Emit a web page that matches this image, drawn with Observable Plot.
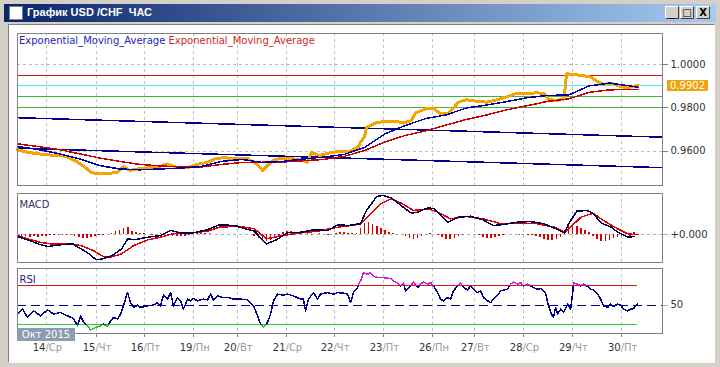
<!DOCTYPE html>
<html><head><meta charset="utf-8">
<script src="https://cdn.jsdelivr.net/npm/d3@7"></script>
<script src="https://cdn.jsdelivr.net/npm/@observablehq/plot@0.6"></script>
<style>
html,body{margin:0;padding:0;background:#d4d0c8;}
#win{position:relative;width:720px;height:367px;overflow:hidden;background:#d4d0c8;font-family:"DejaVu Sans",sans-serif;}
#tb{position:absolute;left:4px;top:4px;width:712px;height:18px;background:linear-gradient(to right,#0a246a 0%,#a6caf0 100%);}
#ttl{position:absolute;left:23px;top:2px;color:#fff;font:bold 11px "Liberation Sans",Arial,sans-serif;white-space:pre;}
#icon{position:absolute;left:5px;top:2px;width:12px;height:12px;background:#fff;border:1px solid #808080;}
.btn{position:absolute;top:2px;width:12px;height:11px;background:#d4d0c8;border-top:1px solid #fff;border-left:1px solid #fff;border-right:1px solid #404040;border-bottom:1px solid #404040;font:bold 10px "DejaVu Sans";color:#000;text-align:center;line-height:11px;}
#client{position:absolute;left:8px;top:24px;width:705px;height:337px;background:#fff;border-top:1px solid #808080;border-left:1px solid #808080;border-right:1px solid #fff;border-bottom:1px solid #fff;}
.pl{position:absolute;left:0;}
.pl svg line, .pl svg rect, .pl svg path{shape-rendering:crispEdges;}
#legend{position:absolute;left:19px;top:35px;font:10px "DejaVu Sans";white-space:pre;}
#pricebox{position:absolute;left:667px;width:41px;height:11px;background:#f0a30a;color:#fff;font:10px "DejaVu Sans";line-height:11px;text-align:center;}
#okt{position:absolute;left:17px;top:328px;width:58px;height:13px;background:#8a9db3;color:#fff;font:10px "DejaVu Sans";line-height:13px;text-align:center;}
</style></head>
<body>
<div id="win">
  <div id="tb"><div id="icon"></div><span id="ttl">График USD /CHF  ЧАС</span>
    <div class="btn" style="left:661px">_</div>
    <div class="btn" style="left:676px">□</div>
    <div class="btn" style="left:692px">X</div>
  </div>
  <div id="client"></div>
  <div id="main" class="pl" style="top:32px"></div>
  <div id="macd" class="pl" style="top:192px"></div>
  <div id="rsi" class="pl" style="top:267px"></div>
  <div id="legend"><span style="color:#2424b4">Exponential_Moving_Average</span> <span style="color:#d02828">Exponential_Moving_Average</span></div>
  <div id="pricebox"></div>
  <div id="okt">Окт 2015</div>
</div>
<script>
// ---- x axis (hourly bar index) ----
const tickBars = [14.2, 38.7, 62.2, 86.2, 107.8, 131.8, 155.3, 179.3, 203.4, 223.9, 247.9, 272, 296];
const tickDay = ["14","15","16","19","20","21","22","23","26","27","28","29","30"];
const tickWeekday = ["Ср","Чт","Пт","Пн","Вт","Ср","Чт","Пт","Пн","Вт","Ср","Чт","Пт"];

// ---- price ----
const priceBar = [0,5,10,15,20,24,29,33,36,39,44,49,52,55,59,64,69,73,78,83,88,93,97,101,108,113,118,120,122,125,129,134,139,142,144,148,153,158,163,167,168,170,171,173,176,181,186,189,193,195,197,201,204,207,211,214,216,220,225,230,235,240,245,250,255,258,260,263,267,268,269,272,277,281,284,287,291,294,297,300,304];
const priceClose = [0.9606,0.9594,0.9587,0.9582,0.9579,0.9575,0.9551,0.9525,0.9502,0.9495,0.9495,0.9502,0.9528,0.9510,0.9518,0.9522,0.9525,0.9541,0.9525,0.9522,0.9538,0.9548,0.9564,0.9569,0.9564,0.9564,0.9533,0.9510,0.9528,0.9556,0.9567,0.9564,0.9561,0.9548,0.9593,0.9579,0.9592,0.9599,0.9599,0.9618,0.9641,0.9664,0.9710,0.9718,0.9733,0.9736,0.9736,0.9729,0.9741,0.9775,0.9784,0.9798,0.9795,0.9775,0.9772,0.9803,0.9826,0.9837,0.9830,0.9826,0.9837,0.9852,0.9867,0.9867,0.9869,0.9865,0.9841,0.9834,0.9837,0.9865,0.9957,0.9954,0.9949,0.9941,0.9923,0.9908,0.9914,0.9903,0.9895,0.9895,0.9904];
const lastPrice = 0.9902;

// ---- moving averages ----
const emaBar = [0,10,20,30,40,50,60,70,80,90,100,110,120,130,140,150,160,170,180,190,200,210,220,230,240,250,260,270,280,290,300,304];
const emaFast = [0.9621,0.9607,0.9588,0.9565,0.9533,0.9517,0.9513,0.9517,0.9521,0.9528,0.9552,0.9561,0.9547,0.9552,0.9563,0.9572,0.9584,0.9616,0.9679,0.9718,0.9750,0.9767,0.9799,0.9813,0.9829,0.9847,0.9857,0.9859,0.9901,0.9914,0.9901,0.9895];
const emaSlow = [0.9633,0.9621,0.9607,0.9588,0.9568,0.9552,0.9538,0.9531,0.9526,0.9526,0.9538,0.9547,0.9548,0.9549,0.9555,0.9561,0.9575,0.9602,0.9642,0.9672,0.9693,0.9720,0.9746,0.9767,0.9791,0.9810,0.9830,0.9841,0.9871,0.9883,0.9884,0.9884];

// ---- channel & levels ----
const channelBar = [0, 316];
const channelUpper = [0.9754, 0.9664];
const channelLower = [0.9613, 0.9523];
const levelRed = [0.9949];
const levelCyan = [0.9902];
const levelGreen = [0.9850, 0.9801];
const priceTicks = [0.96, 0.98, 1.0];

// ---- MACD ----
const macdBar = [0,5,11,15,21,27,29,34,38,39,42,47,51,54,57,64,70,75,80,86,93,99,106,116,122,127,132,139,145,152,157,162,167,168,171,176,179,183,189,193,196,201,204,211,216,222,228,233,238,245,251,258,265,268,270,274,279,282,286,291,294,299,302];
const macdVal = [-0.00016,-0.00049,-0.00096,-0.00116,-0.00099,-0.00089,-0.00116,-0.00173,-0.00239,-0.00249,-0.00239,-0.00199,-0.00139,-0.00039,-0.00049,-0.00023,-0.00006,0.00044,0.00021,0.00021,0.00051,0.00101,0.00094,0.00037,-0.00089,-0.00049,0.00021,0.00027,0.00051,0.00044,0.00101,0.00094,0.00111,0.00111,0.00244,0.00384,0.00394,0.00371,0.00277,0.00217,0.00227,0.00271,0.00261,0.00127,0.00177,0.00187,0.00151,0.00094,0.00104,0.00127,0.00134,0.00111,0.00051,0.00017,0.00111,0.00237,0.00244,0.00217,0.00117,0.00077,0.00027,-0.00023,-0.00016];
const signalBar = [0,5,11,16,24,31,37,42,46,51,57,64,70,76,86,93,99,108,116,122,130,139,147,157,167,168,173,178,183,188,194,201,206,212,220,228,237,245,255,263,268,271,276,282,287,294,299,304];
const signalVal = [-0.00006,-0.00039,-0.00073,-0.00089,-0.00089,-0.00106,-0.00156,-0.00216,-0.00221,-0.00189,-0.00106,-0.00049,-0.00023,0.00011,0.00021,0.00037,0.00077,0.00087,0.00061,-0.00039,-0.00006,0.00021,0.00037,0.00077,0.00104,0.00111,0.00211,0.00311,0.00361,0.00317,0.00244,0.00261,0.00227,0.00161,0.00184,0.00161,0.00111,0.00121,0.00111,0.00077,0.00027,0.00077,0.00177,0.00217,0.00144,0.00061,0.00011,0.00001];
const histVal = [
-0.00015,-0.0002,-0.0002,-0.00025,-0.0002,-0.00025,-0.0002,-0.00015,
-0.00005,-0.00005,-0.00005,-0.00005,
-0.00005,-0.0001,-0.0002,-0.0003,-0.0004,-0.0004,-0.0003,-0.0002,
-0.0001,-0.00005,0.00005,0.0001,
0.0003,0.0004,0.0006,0.0007,
0.0003,0.0002,0.00015,0.0001,
0.00005,-0.00005,0.00005,0.0001,-0.00005,
-0.0001,-0.0002,-0.0002,-0.0002,-0.00015,-0.0001,
0.0001,0.0002,0.0002,0.00015,0.0001,0.00005,
0.00003,0.00003,0.00003,0.00003,0.00003,0.00003,0.00003,0.00003,0.00003,
-0.0002,-0.0004,-0.0006,-0.0007,-0.0006,-0.0004,-0.0002,
0.0002,0.0003,0.0003,0.0002,0.0001,
0.00005,0.0001,-0.00005,0.00005,0.0001,0.00005,-0.00005,0.00005,
0.0001,0.0002,0.0002,0.00015,0.0001,0.0001,
0.0006,0.0011,0.0012,0.0010,0.0008,0.0006,0.0004,0.0002,
0.0001,0.00005,0,
-0.0002,-0.0004,-0.0005,-0.0004,-0.0002,
0.00005,0.0001,0.00005,-0.0001,
-0.0003,-0.0005,-0.0005,-0.0004,-0.0002,-0.0001,
0.00005,0.00005,0,-0.0001,
-0.0003,-0.0004,-0.0004,-0.0003,-0.0002,-0.0001,
0.00005,0.00005,0.00005,-0.00005,0.00005,-0.00005,-0.0001,
-0.0002,-0.0003,-0.0005,-0.0006,-0.0006,-0.0005,-0.0003,
0.0004,0.0009,0.0010,0.0008,0.0006,0.0004,0.0002,
-0.0002,-0.0005,-0.0007,-0.0007,-0.0006,-0.0004,-0.0003,
-0.0002,0.0002,-0.0002,0.0002,-0.0001];
const histBar = d3.range(0, 305, 2);

// ---- RSI ----
const rsiBar = [0,2.5,4.9,7.8,11.3,14.7,17.6,21.1,24.5,27.4,
29.4,30.9,32.3,34.3,35.8,38.2,40.7,42.1,44.1,45.6,
47,49,50.5,51.9,53.9,55.4,56.8,58.8,60.3,63.7,
66.6,68.6,70.1,71.5,73.5,75,76.4,78.4,79.9,81.3,
83.3,84.8,86.2,88.2,91.1,93.1,94.6,96,98,100.5,
103.4,105.8,109.3,112.7,115.6,117.6,119.1,120,120.5,122.5,
124,125.4,127.4,130.3,132.3,135.2,138.7,140.1,141.1,142.6,
145,147,148.5,151.9,154.8,156.8,159.7,161.7,163.2,164.6,
166.6,167.1,168.1,169.5,171.5,173,174.4,176.4,179.3,182.8,
184.2,186.2,187.7,189.1,190.1,192.6,194,196,197.5,198.9,
200.9,202.4,203.8,205.8,207.3,208.7,210.7,212.2,213.6,215.6,
217.1,218.5,220.5,222,223.4,225.4,226.9,228.3,230.3,231.8,
233.2,235.2,236.7,240.1,241.6,243,245,246.5,247.9,249.9,
251.4,252.8,254.8,256.3,258.7,259.7,261.2,262.6,263.6,264.6,
266.1,267.5,269.5,271,272,272.4,274.4,275.9,277.3,279.3,
280.8,282.2,284.2,285.7,287.1,289.1,290.6,292,294,295.5,
296.9,298.9,300.4,301.8,303.8];
const rsiVal = [41.2,45.9,37.4,44.2,39.1,45.2,40.9,42.5,39.1,36.4,
29,39.1,33,29,24.6,27.3,29,30.7,28.3,34,
37.4,35.8,40.9,49.3,62.8,52.6,47.6,50,47.6,49.3,
50,52.6,49.3,60.2,56.1,62.8,49.3,57.7,54.4,45.9,
56.1,54.4,56.7,54.4,56.1,55.4,61.2,55.1,59.4,57.7,
57.7,56.1,56.1,55.4,49.3,39.1,30.7,29,28,32.3,
40.9,54.4,61.2,60.2,61.2,59.4,56.1,56.1,44.2,56.1,
62.8,56.1,61.2,62.8,61.2,62.8,62.2,61.2,52.6,62.8,
67.9,71.3,74.7,83.1,81.5,83.1,79.7,78,78,77,
74.7,72.3,69.6,73,64.5,69.6,73.7,67.9,71.3,73.7,
71.3,73,69.6,62.8,56.1,54.4,57.7,56.1,64.5,69.6,
72.3,67.9,65.5,69.6,66.2,62.8,64.5,57.7,54.4,52.6,
56.1,60.2,64.5,66.2,71.3,73.7,71.3,73,69.6,71.3,
69.6,67.9,66.2,66.9,62.8,52.6,42.5,37.4,47.6,40.9,
45.9,42.5,51,45.9,62.8,73,71.3,69.6,71.3,68.9,
66.2,65.5,61.2,56.1,49.3,47.6,51,48.6,51,50,
45.9,44.2,45.9,46.5,51];
const rsiHigh = 70, rsiMid = 50, rsiLow = 30;

// ---- build ----
const zip = (xs, ys) => { const n = Math.min(xs.length, ys.length); const out = []; for (let i = 0; i < n; i++) out.push({x: xs[i], y: ys[i]}); return out; };
const style = {fontFamily: "DejaVu Sans, sans-serif", fontSize: "10px", background: "transparent", overflow: "visible", color: "#333"};
const xOpt = {domain: [0, 316], axis: null};
const gridOpt = {stroke: "#c0c0c0", strokeDasharray: "3,3"};
const L = {x: "x", y: "y"};
const RED = "rgb(220,20,20)";

const main = Plot.plot({
  width: 720, height: 154, marginLeft: 17, marginRight: 58, marginTop: 1, marginBottom: 1,
  style, x: xOpt, y: {domain: [0.94405, 1.01434], axis: null},
  marks: [
    Plot.ruleX(tickBars, gridOpt),
    Plot.ruleY(priceTicks, gridOpt),
    Plot.ruleY(levelRed, {stroke: RED}),
    Plot.ruleY(levelCyan, {stroke: "rgb(80,230,235)"}),
    Plot.ruleY(levelGreen, {stroke: "rgb(60,180,60)"}),
    Plot.line(zip(channelBar, channelUpper), {...L, stroke: "#00008b"}),
    Plot.line(zip(channelBar, channelLower), {...L, stroke: "#00008b"}),
    Plot.line(zip(priceBar, priceClose), {...L, stroke: "#f5a300", strokeWidth: 3}),
    Plot.line(zip(emaBar, emaSlow), {...L, stroke: "#c80000"}),
    Plot.line(zip(emaBar, emaFast), {...L, stroke: "#0000b0"}),
    Plot.axisY(priceTicks, {anchor: "right", tickSize: 5, tickPadding: 3, tickFormat: d => d.toFixed(4), label: null, stroke: "#808080", fill: "#333"}),
    Plot.frame({stroke: "#808080"})
  ]
});
document.getElementById("main").appendChild(main);
const pb = document.getElementById("pricebox");
pb.textContent = lastPrice.toFixed(4);
pb.style.top = (32 + main.scale("y").apply(lastPrice) - 5.5) + "px";

const macd = Plot.plot({
  width: 720, height: 71, marginLeft: 17, marginRight: 58, marginTop: 1, marginBottom: 1,
  style, x: xOpt, y: {domain: [-0.00276, 0.00414], axis: null},
  marks: [
    Plot.ruleX(tickBars, gridOpt),
    Plot.ruleY([0], {stroke: "#b0b0b0", strokeDasharray: "3,3"}),
    Plot.ruleX(zip(histBar, histVal), {x: "x", y1: 0, y2: "y", stroke: "#d40000", strokeWidth: 1.6}),
    Plot.line(zip(signalBar, signalVal), {...L, stroke: "#e00000"}),
    Plot.line(zip(macdBar, macdVal), {...L, stroke: "#000050"}),
    Plot.text(["MACD"], {frameAnchor: "top-left", dx: 2, dy: 7, textAnchor: "start", fill: "#33336a", fontSize: 10}),
    Plot.axisY([0], {anchor: "right", tickSize: 5, tickPadding: 3, tickFormat: () => "+0.000", label: null, stroke: "#b0b0b0", fill: "#333"}),
    Plot.frame({stroke: "#808080"})
  ]
});
document.getElementById("macd").appendChild(macd);

const rsiData = zip(rsiBar, rsiVal);
const x0 = rsiBar[0], x1 = rsiBar[rsiBar.length - 1];
const rsi = Plot.plot({
  width: 720, height: 95, marginLeft: 17, marginRight: 58, marginTop: 1, marginBottom: 29,
  style, x: xOpt, y: {domain: [21.1, 87.3], axis: null},
  marks: [
    Plot.ruleX(tickBars, gridOpt),
    Plot.ruleY([{y: rsiHigh, a: x0, b: x1}], {y: "y", x1: "a", x2: "b", stroke: RED}),
    Plot.ruleY([{y: rsiLow, a: x0, b: x1}], {y: "y", x1: "a", x2: "b", stroke: "rgb(50,205,50)"}),
    Plot.ruleY([rsiMid], {stroke: "#00008b", strokeDasharray: "9,5"}),
    Plot.line(rsiData, {...L, stroke: "#00008b"}),
    Plot.line(rsiData, {...L, stroke: "#d020d0"}),
    Plot.line(rsiData, {...L, stroke: "#30c030"}),
    Plot.text(["RSI"], {frameAnchor: "top-left", dx: 2, dy: 7, textAnchor: "start", fill: "#1a1a8c", fontSize: 10}),
    Plot.axisY([rsiMid], {anchor: "right", tickSize: 5, tickPadding: 3, tickFormat: d => String(d), label: null, stroke: "#b0b0b0", fill: "#333"}),
    Plot.axisX(tickBars, {anchor: "bottom", tickSize: 4, tickFormat: () => "", label: null, stroke: "#808080"}),
    Plot.text(tickBars, {x: d => d, frameAnchor: "bottom", dy: 17, dx: -1, textAnchor: "end", text: (d, i) => tickDay[i], fill: "#333", fontSize: 10}),
    Plot.text(tickBars, {x: d => d, frameAnchor: "bottom", dy: 17, dx: -1, textAnchor: "start", text: (d, i) => "/" + tickWeekday[i], fill: "#9a9a9a", fontSize: 10}),
    Plot.frame({stroke: "#808080"})
  ]
});
document.getElementById("rsi").appendChild(rsi);
// colour the RSI line by zone using clip paths built from the y scale
(function () {
  const ys = rsi.scale("y");
  const yHi = ys.apply(rsiHigh), yLo = ys.apply(rsiLow);
  const svg = d3.select(rsi);
  const defs = svg.append("defs");
  const mk = (id, a, b) => defs.append("clipPath").attr("id", id).append("rect").attr("x", 0).attr("y", a).attr("width", 720).attr("height", Math.max(0, b - a));
  mk("rsiMidClip", yHi, yLo);
  mk("rsiHiClip", -50, yHi);
  mk("rsiLoClip", yLo, 200);
  const lines = rsi.querySelectorAll('g[aria-label="line"]');
  if (lines.length >= 3) {
    lines[0].setAttribute("clip-path", "url(#rsiMidClip)");
    lines[1].setAttribute("clip-path", "url(#rsiHiClip)");
    lines[2].setAttribute("clip-path", "url(#rsiLoClip)");
  }
})();
</script>
</body></html>
